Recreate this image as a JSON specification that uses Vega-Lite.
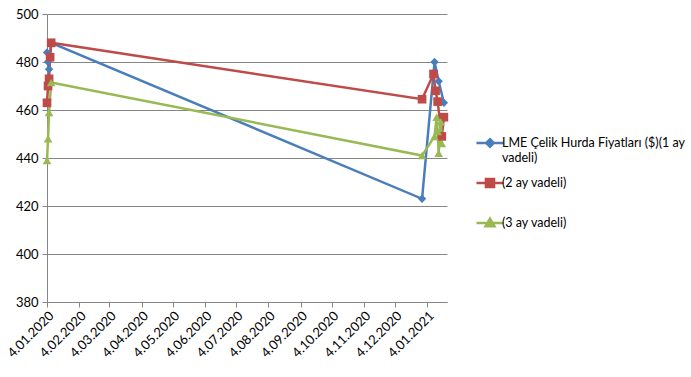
{
  "$schema": "https://vega.github.io/schema/vega-lite/v6.json",
  "width": 400,
  "height": 288,
  "autosize": {"type": "none"},
  "padding": {"left": 47, "top": 14, "right": 244, "bottom": 75},
  "background": "white",
  "config": {"view": {"stroke": null}, "font": "Lato"},
  "data": {"values": [
    {"date": "2020-01-04", "value": 484, "series": "LME Çelik Hurda Fiyatları ($)(1 ay vadeli)"},
    {"date": "2020-01-05", "value": 480, "series": "LME Çelik Hurda Fiyatları ($)(1 ay vadeli)"},
    {"date": "2020-01-06", "value": 477, "series": "LME Çelik Hurda Fiyatları ($)(1 ay vadeli)"},
    {"date": "2020-01-08", "value": 488, "series": "LME Çelik Hurda Fiyatları ($)(1 ay vadeli)"},
    {"date": "2020-12-30", "value": 423, "series": "LME Çelik Hurda Fiyatları ($)(1 ay vadeli)"},
    {"date": "2021-01-11", "value": 480, "series": "LME Çelik Hurda Fiyatları ($)(1 ay vadeli)"},
    {"date": "2021-01-15", "value": 472, "series": "LME Çelik Hurda Fiyatları ($)(1 ay vadeli)"},
    {"date": "2021-01-20", "value": 463, "series": "LME Çelik Hurda Fiyatları ($)(1 ay vadeli)"},
    {"date": "2020-01-04", "value": 463, "series": "(2 ay vadeli)"},
    {"date": "2020-01-05", "value": 470, "series": "(2 ay vadeli)"},
    {"date": "2020-01-06", "value": 473, "series": "(2 ay vadeli)"},
    {"date": "2020-01-07", "value": 482, "series": "(2 ay vadeli)"},
    {"date": "2020-01-08", "value": 488, "series": "(2 ay vadeli)"},
    {"date": "2020-12-30", "value": 464.5, "series": "(2 ay vadeli)"},
    {"date": "2021-01-10", "value": 475, "series": "(2 ay vadeli)"},
    {"date": "2021-01-12", "value": 468, "series": "(2 ay vadeli)"},
    {"date": "2021-01-14", "value": 463.5, "series": "(2 ay vadeli)"},
    {"date": "2021-01-18", "value": 449, "series": "(2 ay vadeli)"},
    {"date": "2021-01-20", "value": 457, "series": "(2 ay vadeli)"},
    {"date": "2020-01-04", "value": 439, "series": "(3 ay vadeli)"},
    {"date": "2020-01-05", "value": 448, "series": "(3 ay vadeli)"},
    {"date": "2020-01-06", "value": 459, "series": "(3 ay vadeli)"},
    {"date": "2020-01-08", "value": 471.5, "series": "(3 ay vadeli)"},
    {"date": "2020-12-30", "value": 441, "series": "(3 ay vadeli)"},
    {"date": "2021-01-11", "value": 449, "series": "(3 ay vadeli)"},
    {"date": "2021-01-13", "value": 457, "series": "(3 ay vadeli)"},
    {"date": "2021-01-14", "value": 451, "series": "(3 ay vadeli)"},
    {"date": "2021-01-15", "value": 442, "series": "(3 ay vadeli)"},
    {"date": "2021-01-17", "value": 455, "series": "(3 ay vadeli)"},
    {"date": "2021-01-18", "value": 446, "series": "(3 ay vadeli)"}
  ]},
  "encoding": {
    "x": {
      "field": "date", "type": "temporal",
      "scale": {"type": "utc", "domain": [{"year": 2020, "month": 1, "date": 4, "utc": true}, {"year": 2021, "month": 1, "date": 23, "utc": true}]},
      "axis": {
        "title": null,
        "values": [
          {"year": 2020, "month": 1, "date": 4, "utc": true},
          {"year": 2020, "month": 2, "date": 4, "utc": true},
          {"year": 2020, "month": 3, "date": 4, "utc": true},
          {"year": 2020, "month": 4, "date": 4, "utc": true},
          {"year": 2020, "month": 5, "date": 4, "utc": true},
          {"year": 2020, "month": 6, "date": 4, "utc": true},
          {"year": 2020, "month": 7, "date": 4, "utc": true},
          {"year": 2020, "month": 8, "date": 4, "utc": true},
          {"year": 2020, "month": 9, "date": 4, "utc": true},
          {"year": 2020, "month": 10, "date": 4, "utc": true},
          {"year": 2020, "month": 11, "date": 4, "utc": true},
          {"year": 2020, "month": 12, "date": 4, "utc": true},
          {"year": 2021, "month": 1, "date": 4, "utc": true}
        ],
        "format": "%-d.%m.%Y",
        "labelAngle": -45,
        "labelAlign": "right",
        "labelBaseline": "top",
        "labelFontSize": 13,
        "labelColor": "#000000",
        "labelPadding": 2,
        "labelOverlap": false,
        "labelBound": false,
        "labelFlush": false,
        "tickSize": 5,
        "tickColor": "#868686",
        "domainColor": "#868686",
        "grid": false
      }
    },
    "y": {
      "field": "value", "type": "quantitative",
      "scale": {"domain": [380, 500], "nice": false, "zero": false},
      "axis": {
        "title": null,
        "values": [380, 400, 420, 440, 460, 480, 500],
        "labelFontSize": 13,
        "labelColor": "#000000",
        "labelPadding": 4,
        "tickSize": 5,
        "tickColor": "#868686",
        "domainColor": "#868686",
        "grid": true,
        "gridColor": "#868686",
        "gridOpacity": 1
      }
    },
    "color": {
      "field": "series", "type": "nominal",
      "scale": {
        "domain": ["LME Çelik Hurda Fiyatları ($)(1 ay vadeli)", "(2 ay vadeli)", "(3 ay vadeli)"],
        "range": ["#4A7EBB", "#BE4B48", "#98B954"]
      },
      "legend": {
        "title": null,
        "orient": "none",
        "legendX": 428,
        "legendY": 114,
        "gridAlign": "all",
        "symbolType": {"expr": "datum.value == '(2 ay vadeli)' ? 'M-1,0L1,0M-0.3,-0.3L0.3,-0.3L0.3,0.3L-0.3,0.3Z' : datum.value == '(3 ay vadeli)' ? 'M-1,0L1,0M0,-0.32L0.33,0.24L-0.33,0.24Z' : 'M-1,0L1,0M0,-0.28L0.28,0L0,0.28L-0.28,0Z'"},
        "symbolSize": 729,
        "symbolStrokeWidth": 2.5,
        "symbolOpacity": 1,
        "labelExpr": "datum.value == 'LME Çelik Hurda Fiyatları ($)(1 ay vadeli)' ? ['LME Çelik Hurda Fiyatları ($)(1 ay', 'vadeli)'] : datum.label",
        "labelFontSize": 12.5,
        "labelColor": "#000000",
        "labelLimit": 300,
        "labelOffset": -3,
        "labelBaseline": "middle",
        "rowPadding": 4
      }
    }
  },
  "layer": [
    {"mark": {"type": "line", "strokeWidth": 2.5}},
    {
      "transform": [{"filter": "datum.series == 'LME Çelik Hurda Fiyatları ($)(1 ay vadeli)'"}],
      "mark": {"type": "point", "shape": "diamond", "filled": true, "size": 70, "opacity": 1, "strokeWidth": 1}
    },
    {
      "transform": [{"filter": "datum.series == '(2 ay vadeli)'"}],
      "mark": {"type": "point", "shape": "square", "filled": true, "size": 75, "opacity": 1, "strokeWidth": 1}
    },
    {
      "transform": [{"filter": "datum.series == '(3 ay vadeli)'"}],
      "mark": {"type": "point", "shape": "triangle-up", "filled": true, "size": 75, "opacity": 1, "strokeWidth": 1}
    }
  ]
}
